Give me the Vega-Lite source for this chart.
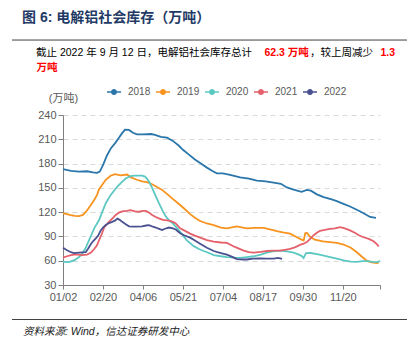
{
"$schema": "https://vega.github.io/schema/vega-lite/v6.json",
"width": 317, "height": 170,
"autosize": {"type": "none"},
"padding": {"left": 63, "top": 115, "right": 35, "bottom": 66},
"background": "white",
"title": {"text": "图 6: 电解铝社会库存（万吨）", "anchor": "start", "frame": "group", "dx": -41, "offset": 8, "baseline": "middle", "fontSize": 14, "fontWeight": "bold", "color": "#1F3A66", "font": "Liberation Sans, Noto Sans CJK SC"},
"config": {"view": {"stroke": null}, "font": "Liberation Sans, Noto Sans CJK SC",
 "axis": {"labelOverlap": false, "labelFlush": false, "domainColor": "#7F7F7F", "tickColor": "#7F7F7F", "labelFontSize": 11, "labelColor": "#595959", "labelPadding": 2, "labelFont": "Liberation Sans"},
 "axisX": {"grid": false, "tickSize": 4},
 "axisY": {"grid": true, "gridDash": [5,4], "gridColor": "#D9D9D9", "gridWidth": 1, "tickSize": 5, "titleAngle": 0, "titleAlign": "center", "titleBaseline": "middle", "titleX": 0, "titleY": -17, "titleFontSize": 11, "titleFontWeight": "normal", "titleColor": "#595959", "titleFont": "Liberation Sans, Noto Sans CJK SC"}
},
"datasets": {"inv": [
{"year":"2018","pos":0,"stock":173},{"year":"2018","pos":0.2,"stock":171},{"year":"2018","pos":0.4,"stock":170},{"year":"2018","pos":0.6,"stock":170.5},{"year":"2018","pos":0.75,"stock":169},{"year":"2018","pos":0.85,"stock":168.5},{"year":"2018","pos":0.92,"stock":170},{"year":"2018","pos":1.0,"stock":178},{"year":"2018","pos":1.1,"stock":190},{"year":"2018","pos":1.2,"stock":199},{"year":"2018","pos":1.3,"stock":205},{"year":"2018","pos":1.4,"stock":212},{"year":"2018","pos":1.47,"stock":217},{"year":"2018","pos":1.55,"stock":222},{"year":"2018","pos":1.65,"stock":221.5},{"year":"2018","pos":1.75,"stock":218},{"year":"2018","pos":1.85,"stock":216},{"year":"2018","pos":2.0,"stock":216},{"year":"2018","pos":2.2,"stock":216.5},{"year":"2018","pos":2.3,"stock":215.5},{"year":"2018","pos":2.45,"stock":213},{"year":"2018","pos":2.6,"stock":212},{"year":"2018","pos":2.75,"stock":208},{"year":"2018","pos":2.9,"stock":202},{"year":"2018","pos":3.0,"stock":197},{"year":"2018","pos":3.15,"stock":191},{"year":"2018","pos":3.3,"stock":185},{"year":"2018","pos":3.45,"stock":180},{"year":"2018","pos":3.6,"stock":175},{"year":"2018","pos":3.75,"stock":170.5},{"year":"2018","pos":3.85,"stock":168},{"year":"2018","pos":4.0,"stock":168},{"year":"2018","pos":4.18,"stock":166},{"year":"2018","pos":4.43,"stock":163},{"year":"2018","pos":4.65,"stock":161.5},{"year":"2018","pos":4.85,"stock":159},{"year":"2018","pos":5.07,"stock":158},{"year":"2018","pos":5.27,"stock":156.5},{"year":"2018","pos":5.45,"stock":155},{"year":"2018","pos":5.6,"stock":150.5},{"year":"2018","pos":5.75,"stock":148},{"year":"2018","pos":5.9,"stock":146},{"year":"2018","pos":5.97,"stock":145},{"year":"2018","pos":6.1,"stock":147.5},{"year":"2018","pos":6.2,"stock":146.5},{"year":"2018","pos":6.35,"stock":142},{"year":"2018","pos":6.52,"stock":138.5},{"year":"2018","pos":6.7,"stock":136},{"year":"2018","pos":6.85,"stock":133.5},{"year":"2018","pos":7.0,"stock":130.5},{"year":"2018","pos":7.18,"stock":127},{"year":"2018","pos":7.35,"stock":123},{"year":"2018","pos":7.52,"stock":118.7},{"year":"2018","pos":7.68,"stock":114},{"year":"2018","pos":7.83,"stock":113},
{"year":"2019","pos":0,"stock":118.5},{"year":"2019","pos":0.1,"stock":117.5},{"year":"2019","pos":0.19,"stock":116.4},{"year":"2019","pos":0.3,"stock":115.5},{"year":"2019","pos":0.4,"stock":115},{"year":"2019","pos":0.5,"stock":116.5},{"year":"2019","pos":0.6,"stock":122},{"year":"2019","pos":0.7,"stock":129},{"year":"2019","pos":0.78,"stock":135},{"year":"2019","pos":0.85,"stock":141},{"year":"2019","pos":0.9,"stock":148},{"year":"2019","pos":1.0,"stock":155},{"year":"2019","pos":1.07,"stock":160},{"year":"2019","pos":1.19,"stock":165},{"year":"2019","pos":1.3,"stock":167},{"year":"2019","pos":1.44,"stock":165.5},{"year":"2019","pos":1.6,"stock":166.5},{"year":"2019","pos":1.7,"stock":163},{"year":"2019","pos":1.85,"stock":160},{"year":"2019","pos":1.98,"stock":158},{"year":"2019","pos":2.1,"stock":157},{"year":"2019","pos":2.23,"stock":154.5},{"year":"2019","pos":2.35,"stock":151},{"year":"2019","pos":2.48,"stock":147.5},{"year":"2019","pos":2.6,"stock":142.5},{"year":"2019","pos":2.73,"stock":137},{"year":"2019","pos":2.9,"stock":130},{"year":"2019","pos":3.03,"stock":124.5},{"year":"2019","pos":3.18,"stock":117.5},{"year":"2019","pos":3.3,"stock":113},{"year":"2019","pos":3.43,"stock":109},{"year":"2019","pos":3.6,"stock":106},{"year":"2019","pos":3.77,"stock":104},{"year":"2019","pos":3.95,"stock":101},{"year":"2019","pos":4.1,"stock":100},{"year":"2019","pos":4.35,"stock":102.5},{"year":"2019","pos":4.5,"stock":101},{"year":"2019","pos":4.6,"stock":100},{"year":"2019","pos":4.8,"stock":100.5},{"year":"2019","pos":5.02,"stock":100.5},{"year":"2019","pos":5.2,"stock":98.5},{"year":"2019","pos":5.35,"stock":96.5},{"year":"2019","pos":5.5,"stock":95},{"year":"2019","pos":5.68,"stock":93.5},{"year":"2019","pos":5.85,"stock":89},{"year":"2019","pos":5.97,"stock":86},{"year":"2019","pos":6.02,"stock":85},{"year":"2019","pos":6.06,"stock":94},{"year":"2019","pos":6.1,"stock":94.5},{"year":"2019","pos":6.18,"stock":89.5},{"year":"2019","pos":6.3,"stock":86},{"year":"2019","pos":6.5,"stock":84},{"year":"2019","pos":6.68,"stock":83},{"year":"2019","pos":6.85,"stock":82},{"year":"2019","pos":7.02,"stock":80},{"year":"2019","pos":7.2,"stock":76},{"year":"2019","pos":7.35,"stock":70.5},{"year":"2019","pos":7.5,"stock":64},{"year":"2019","pos":7.6,"stock":60},{"year":"2019","pos":7.72,"stock":58},{"year":"2019","pos":7.85,"stock":57},{"year":"2019","pos":7.9,"stock":57.5},
{"year":"2020","pos":0,"stock":58.5},{"year":"2020","pos":0.15,"stock":58.3},{"year":"2020","pos":0.3,"stock":61},{"year":"2020","pos":0.4,"stock":64.5},{"year":"2020","pos":0.48,"stock":68.5},{"year":"2020","pos":0.56,"stock":75},{"year":"2020","pos":0.65,"stock":85},{"year":"2020","pos":0.72,"stock":93},{"year":"2020","pos":0.78,"stock":100},{"year":"2020","pos":0.9,"stock":110},{"year":"2020","pos":0.98,"stock":120},{"year":"2020","pos":1.07,"stock":131},{"year":"2020","pos":1.19,"stock":141},{"year":"2020","pos":1.3,"stock":148},{"year":"2020","pos":1.36,"stock":151.5},{"year":"2020","pos":1.47,"stock":157},{"year":"2020","pos":1.57,"stock":161.5},{"year":"2020","pos":1.69,"stock":164.5},{"year":"2020","pos":1.8,"stock":165},{"year":"2020","pos":1.98,"stock":165},{"year":"2020","pos":2.05,"stock":164},{"year":"2020","pos":2.1,"stock":161.5},{"year":"2020","pos":2.17,"stock":156},{"year":"2020","pos":2.23,"stock":150},{"year":"2020","pos":2.3,"stock":142},{"year":"2020","pos":2.4,"stock":131},{"year":"2020","pos":2.5,"stock":121},{"year":"2020","pos":2.57,"stock":115},{"year":"2020","pos":2.65,"stock":110},{"year":"2020","pos":2.73,"stock":107},{"year":"2020","pos":2.82,"stock":102},{"year":"2020","pos":2.9,"stock":97.5},{"year":"2020","pos":3.03,"stock":89.5},{"year":"2020","pos":3.1,"stock":85},{"year":"2020","pos":3.27,"stock":78},{"year":"2020","pos":3.4,"stock":74.5},{"year":"2020","pos":3.52,"stock":72},{"year":"2020","pos":3.65,"stock":69.5},{"year":"2020","pos":3.77,"stock":67},{"year":"2020","pos":3.95,"stock":65.5},{"year":"2020","pos":4.1,"stock":64.5},{"year":"2020","pos":4.3,"stock":63.8},{"year":"2020","pos":4.43,"stock":63.6},{"year":"2020","pos":4.6,"stock":64.5},{"year":"2020","pos":4.77,"stock":65.5},{"year":"2020","pos":4.95,"stock":67.5},{"year":"2020","pos":5.1,"stock":70},{"year":"2020","pos":5.25,"stock":71.5},{"year":"2020","pos":5.43,"stock":72.5},{"year":"2020","pos":5.6,"stock":71.5},{"year":"2020","pos":5.77,"stock":70},{"year":"2020","pos":5.9,"stock":67.5},{"year":"2020","pos":5.98,"stock":65.5},{"year":"2020","pos":6.02,"stock":63.5},{"year":"2020","pos":6.08,"stock":69.3},{"year":"2020","pos":6.2,"stock":69.5},{"year":"2020","pos":6.35,"stock":68},{"year":"2020","pos":6.5,"stock":66.5},{"year":"2020","pos":6.68,"stock":64.5},{"year":"2020","pos":6.85,"stock":62.5},{"year":"2020","pos":7.02,"stock":60.3},{"year":"2020","pos":7.2,"stock":59},{"year":"2020","pos":7.35,"stock":58.5},{"year":"2020","pos":7.5,"stock":59.5},{"year":"2020","pos":7.6,"stock":59.5},{"year":"2020","pos":7.75,"stock":58.5},{"year":"2020","pos":7.85,"stock":58.2},{"year":"2020","pos":7.93,"stock":59.5},
{"year":"2021","pos":0,"stock":63.7},{"year":"2021","pos":0.1,"stock":65.5},{"year":"2021","pos":0.2,"stock":67},{"year":"2021","pos":0.32,"stock":67.8},{"year":"2021","pos":0.48,"stock":66.8},{"year":"2021","pos":0.6,"stock":67.5},{"year":"2021","pos":0.7,"stock":70},{"year":"2021","pos":0.78,"stock":74.5},{"year":"2021","pos":0.85,"stock":79},{"year":"2021","pos":0.9,"stock":85},{"year":"2021","pos":0.97,"stock":93},{"year":"2021","pos":1.03,"stock":101},{"year":"2021","pos":1.1,"stock":105},{"year":"2021","pos":1.15,"stock":108},{"year":"2021","pos":1.25,"stock":113},{"year":"2021","pos":1.32,"stock":116.5},{"year":"2021","pos":1.4,"stock":119.5},{"year":"2021","pos":1.48,"stock":121},{"year":"2021","pos":1.6,"stock":121.5},{"year":"2021","pos":1.69,"stock":122.5},{"year":"2021","pos":1.8,"stock":121},{"year":"2021","pos":1.9,"stock":120.5},{"year":"2021","pos":2.0,"stock":121.5},{"year":"2021","pos":2.07,"stock":121.5},{"year":"2021","pos":2.15,"stock":119.5},{"year":"2021","pos":2.23,"stock":116.5},{"year":"2021","pos":2.32,"stock":114},{"year":"2021","pos":2.4,"stock":112.3},{"year":"2021","pos":2.5,"stock":110.5},{"year":"2021","pos":2.65,"stock":109.5},{"year":"2021","pos":2.75,"stock":108},{"year":"2021","pos":2.82,"stock":106},{"year":"2021","pos":2.93,"stock":100},{"year":"2021","pos":3.03,"stock":97.5},{"year":"2021","pos":3.18,"stock":93.5},{"year":"2021","pos":3.3,"stock":91},{"year":"2021","pos":3.43,"stock":88.5},{"year":"2021","pos":3.6,"stock":85.5},{"year":"2021","pos":3.77,"stock":83.5},{"year":"2021","pos":3.95,"stock":82.5},{"year":"2021","pos":4.1,"stock":82},{"year":"2021","pos":4.3,"stock":77},{"year":"2021","pos":4.52,"stock":72.5},{"year":"2021","pos":4.65,"stock":70.5},{"year":"2021","pos":4.77,"stock":70},{"year":"2021","pos":4.95,"stock":71},{"year":"2021","pos":5.1,"stock":72},{"year":"2021","pos":5.27,"stock":72.5},{"year":"2021","pos":5.43,"stock":72.5},{"year":"2021","pos":5.55,"stock":73.5},{"year":"2021","pos":5.68,"stock":74.5},{"year":"2021","pos":5.8,"stock":76.5},{"year":"2021","pos":5.93,"stock":79.5},{"year":"2021","pos":6.02,"stock":81},{"year":"2021","pos":6.1,"stock":83},{"year":"2021","pos":6.2,"stock":88},{"year":"2021","pos":6.27,"stock":91.5},{"year":"2021","pos":6.35,"stock":94.5},{"year":"2021","pos":6.43,"stock":97},{"year":"2021","pos":6.55,"stock":98},{"year":"2021","pos":6.68,"stock":99.4},{"year":"2021","pos":6.8,"stock":100},{"year":"2021","pos":6.93,"stock":101.5},{"year":"2021","pos":7.05,"stock":100},{"year":"2021","pos":7.18,"stock":97.5},{"year":"2021","pos":7.3,"stock":94.5},{"year":"2021","pos":7.4,"stock":91.5},{"year":"2021","pos":7.52,"stock":89},{"year":"2021","pos":7.65,"stock":87},{"year":"2021","pos":7.77,"stock":84},{"year":"2021","pos":7.85,"stock":80.5},{"year":"2021","pos":7.9,"stock":77.5},
{"year":"2022","pos":0,"stock":76},{"year":"2022","pos":0.1,"stock":73},{"year":"2022","pos":0.2,"stock":70.5},{"year":"2022","pos":0.27,"stock":69.5},{"year":"2022","pos":0.4,"stock":70},{"year":"2022","pos":0.57,"stock":70.5},{"year":"2022","pos":0.63,"stock":75},{"year":"2022","pos":0.69,"stock":80},{"year":"2022","pos":0.75,"stock":84},{"year":"2022","pos":0.82,"stock":87.5},{"year":"2022","pos":0.88,"stock":91},{"year":"2022","pos":0.94,"stock":97},{"year":"2022","pos":1.0,"stock":101},{"year":"2022","pos":1.07,"stock":104},{"year":"2022","pos":1.15,"stock":106.5},{"year":"2022","pos":1.23,"stock":108},{"year":"2022","pos":1.3,"stock":109.5},{"year":"2022","pos":1.36,"stock":112},{"year":"2022","pos":1.42,"stock":110.5},{"year":"2022","pos":1.48,"stock":108},{"year":"2022","pos":1.57,"stock":105},{"year":"2022","pos":1.65,"stock":102.5},{"year":"2022","pos":1.75,"stock":102},{"year":"2022","pos":1.82,"stock":102},{"year":"2022","pos":1.98,"stock":102.5},{"year":"2022","pos":2.08,"stock":103.5},{"year":"2022","pos":2.15,"stock":104},{"year":"2022","pos":2.25,"stock":102},{"year":"2022","pos":2.32,"stock":101},{"year":"2022","pos":2.42,"stock":99},{"year":"2022","pos":2.48,"stock":98},{"year":"2022","pos":2.55,"stock":99.5},{"year":"2022","pos":2.65,"stock":101},{"year":"2022","pos":2.75,"stock":100},{"year":"2022","pos":2.82,"stock":98.5},{"year":"2022","pos":2.93,"stock":94},{"year":"2022","pos":3.03,"stock":91.5},{"year":"2022","pos":3.18,"stock":88.5},{"year":"2022","pos":3.3,"stock":85},{"year":"2022","pos":3.43,"stock":81},{"year":"2022","pos":3.6,"stock":76},{"year":"2022","pos":3.77,"stock":72},{"year":"2022","pos":3.95,"stock":69.5},{"year":"2022","pos":4.1,"stock":67.5},{"year":"2022","pos":4.22,"stock":65},{"year":"2022","pos":4.35,"stock":62},{"year":"2022","pos":4.5,"stock":61.5},{"year":"2022","pos":4.6,"stock":61.5},{"year":"2022","pos":4.75,"stock":62.5},{"year":"2022","pos":4.93,"stock":63},{"year":"2022","pos":5.1,"stock":62.5},{"year":"2022","pos":5.27,"stock":62.5},{"year":"2022","pos":5.38,"stock":63.6},{"year":"2022","pos":5.48,"stock":62.3}
]},
"layer": [
{"data": {"name": "inv"},
 "mark": {"type": "line", "strokeWidth": 1.8, "interpolate": "linear"},
 "encoding": {
  "x": {"field": "pos", "type": "quantitative", "scale": {"domain": [0, 7.93], "nice": false, "zero": false},
   "axis": {"values": [0,1,2,3,4,5,6,7,7.93], "labelExpr": "datum.value > 7.5 ? '' : ['01/02','02/20','04/06','05/21','07/04','08/17','09/30','11/20'][datum.value]", "title": null, "labelOverlap": false, "grid": false}},
  "y": {"field": "stock", "type": "quantitative", "scale": {"domain": [30, 240], "nice": false, "zero": false},
   "axis": {"values": [30,60,90,120,150,180,210,240], "labelOverlap": false, "grid": true, "title": "(万吨)"}},
  "color": {"field": "year", "type": "nominal",
   "scale": {"domain": ["2018","2019","2020","2021","2022"], "range": ["#2A76AB","#F7931E","#5BC8C2","#E4606A","#4A5190"]},
   "legend": {"title": null, "orient": "none", "legendX": 44, "legendY": -30, "direction": "horizontal",
    "symbolType": "M-1,-0.107H1V0.107H-1Z M-0.43,0A0.43,0.43 0 1,1 0.43,0A0.43,0.43 0 1,1 -0.43,0Z",
    "symbolSize": 196, "symbolStrokeWidth": 0, "labelFontSize": 10, "labelColor": "#595959", "labelFont": "Liberation Sans", "labelOffset": 7, "columnPadding": 5,
    "encode": {"symbols": {"update": {"fill": {"scale": "color", "field": "value"}, "opacity": {"value": 1}}}}}}
 }},
{"data": {"values": [{}]}, "mark": {"type": "rule", "color": "#404040", "strokeWidth": 1},
 "encoding": {"x": {"datum": -1.276, "axis": {"values": [0,1,2,3,4,5,6,7,7.93], "labelExpr": "datum.value > 7.5 ? '' : ['01/02','02/20','04/06','05/21','07/04','08/17','09/30','11/20'][datum.value]", "title": null, "labelOverlap": false, "grid": false}}, "x2": {"datum": 8.605},
  "y": {"datum": 332.6, "axis": {"values": [30,60,90,120,150,180,210,240], "labelOverlap": false, "grid": true, "title": "(万吨)"}}}},
{"data": {"values": [{}]}, "mark": {"type": "rule", "color": "#404040", "strokeWidth": 1},
 "encoding": {"x": {"datum": -1.276, "axis": {"values": [0,1,2,3,4,5,6,7,7.93], "labelExpr": "datum.value > 7.5 ? '' : ['01/02','02/20','04/06','05/21','07/04','08/17','09/30','11/20'][datum.value]", "title": null, "labelOverlap": false, "grid": false}}, "x2": {"datum": 8.605},
  "y": {"datum": -12.6, "axis": {"values": [30,60,90,120,150,180,210,240], "labelOverlap": false, "grid": true, "title": "(万吨)"}}}},
{"data": {"values": [{}]}, "mark": {"type": "text", "text": "截止 2022 年 9 月 12 日，电解铝社会库存总计", "align": "left", "baseline": "middle", "fontSize": 10.5, "color": "#000000"},
 "encoding": {"x": {"datum": -0.675, "axis": {"values": [0,1,2,3,4,5,6,7,7.93], "labelExpr": "datum.value > 7.5 ? '' : ['01/02','02/20','04/06','05/21','07/04','08/17','09/30','11/20'][datum.value]", "title": null, "labelOverlap": false, "grid": false}},
  "y": {"datum": 316.2, "axis": {"values": [30,60,90,120,150,180,210,240], "labelOverlap": false, "grid": true, "title": "(万吨)"}}}},
{"data": {"values": [{}]}, "mark": {"type": "text", "text": "62.3 万吨", "align": "left", "baseline": "middle", "fontSize": 10.5, "fontWeight": "bold", "color": "#FF0000"},
 "encoding": {"x": {"datum": 5.04, "axis": {"values": [0,1,2,3,4,5,6,7,7.93], "labelExpr": "datum.value > 7.5 ? '' : ['01/02','02/20','04/06','05/21','07/04','08/17','09/30','11/20'][datum.value]", "title": null, "labelOverlap": false, "grid": false}},
  "y": {"datum": 316.2, "axis": {"values": [30,60,90,120,150,180,210,240], "labelOverlap": false, "grid": true, "title": "(万吨)"}}}},
{"data": {"values": [{}]}, "mark": {"type": "text", "text": "，较上周减少", "align": "left", "baseline": "middle", "fontSize": 10.5, "color": "#000000"},
 "encoding": {"x": {"datum": 6.18, "axis": {"values": [0,1,2,3,4,5,6,7,7.93], "labelExpr": "datum.value > 7.5 ? '' : ['01/02','02/20','04/06','05/21','07/04','08/17','09/30','11/20'][datum.value]", "title": null, "labelOverlap": false, "grid": false}},
  "y": {"datum": 316.2, "axis": {"values": [30,60,90,120,150,180,210,240], "labelOverlap": false, "grid": true, "title": "(万吨)"}}}},
{"data": {"values": [{}]}, "mark": {"type": "text", "text": "1.3", "align": "left", "baseline": "middle", "fontSize": 10.5, "fontWeight": "bold", "color": "#FF0000"},
 "encoding": {"x": {"datum": 7.94, "axis": {"values": [0,1,2,3,4,5,6,7,7.93], "labelExpr": "datum.value > 7.5 ? '' : ['01/02','02/20','04/06','05/21','07/04','08/17','09/30','11/20'][datum.value]", "title": null, "labelOverlap": false, "grid": false}},
  "y": {"datum": 316.2, "axis": {"values": [30,60,90,120,150,180,210,240], "labelOverlap": false, "grid": true, "title": "(万吨)"}}}},
{"data": {"values": [{}]}, "mark": {"type": "text", "text": "万吨", "align": "left", "baseline": "middle", "fontSize": 10.5, "fontWeight": "bold", "color": "#FF0000"},
 "encoding": {"x": {"datum": -0.663, "axis": {"values": [0,1,2,3,4,5,6,7,7.93], "labelExpr": "datum.value > 7.5 ? '' : ['01/02','02/20','04/06','05/21','07/04','08/17','09/30','11/20'][datum.value]", "title": null, "labelOverlap": false, "grid": false}},
  "y": {"datum": 298.1, "axis": {"values": [30,60,90,120,150,180,210,240], "labelOverlap": false, "grid": true, "title": "(万吨)"}}}},
{"data": {"values": [{}]}, "mark": {"type": "text", "text": "资料来源: Wind，信达证券研发中心", "align": "left", "baseline": "middle", "fontSize": 10.5, "fontStyle": "italic", "color": "#1A1A1A"},
 "encoding": {"x": {"datum": -1.0, "axis": {"values": [0,1,2,3,4,5,6,7,7.93], "labelExpr": "datum.value > 7.5 ? '' : ['01/02','02/20','04/06','05/21','07/04','08/17','09/30','11/20'][datum.value]", "title": null, "labelOverlap": false, "grid": false}},
  "y": {"datum": -27.7, "axis": {"values": [30,60,90,120,150,180,210,240], "labelOverlap": false, "grid": true, "title": "(万吨)"}}}}
]
}
